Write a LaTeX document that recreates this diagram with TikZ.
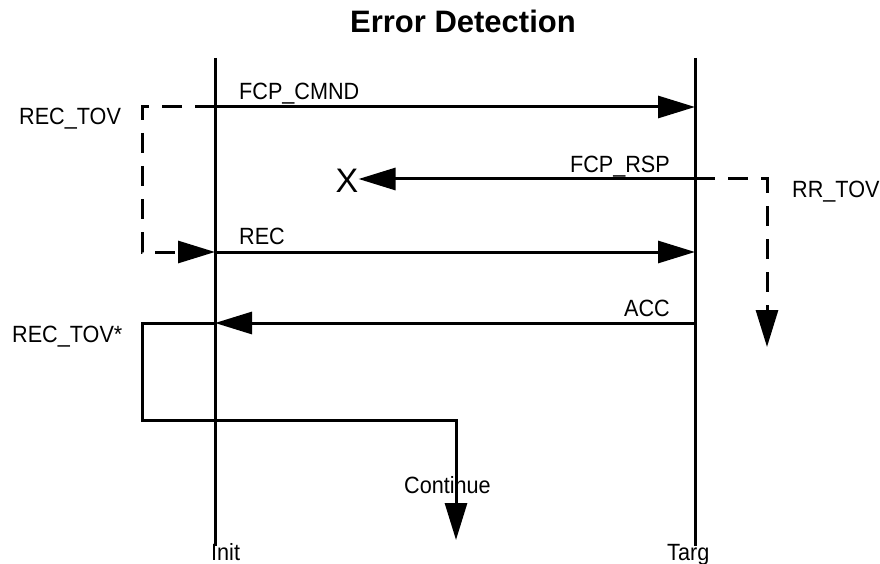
\documentclass[tikz,border=0pt]{standalone}
\usepackage{fontspec}
\setmainfont{Liberation Sans}
\newfontfamily\narrowfont{Liberation Sans}[FakeStretch=0.92]
\usetikzlibrary{arrows.meta}

\begin{document}
\begin{tikzpicture}[x=1pt,y=-1pt,
 msg/.style={line width=3pt, -{Triangle[length=37pt,width=22pt]}},
 tmo/.style={msg, dash pattern=on 20pt off 13pt},
 lbl/.style={inner sep=0, font=\narrowfont\fontsize{23.5}{27}\selectfont}]
\useasboundingbox (0,0) rectangle (880,564);

\node[font=\bfseries\fontsize{31}{36}\selectfont, anchor=base, inner sep=0] (title) at (463,33) {Error Detection};

% lifelines
\coordinate (initTop) at (215,58);
\coordinate (initBot) at (215,546);
\coordinate (targTop) at (695,58);
\coordinate (targBot) at (695,546);
\draw[line width=3pt] (initTop) -- (initBot);
\draw[line width=3pt] (targTop) -- (targBot);
\node[lbl, anchor=base west] (init) at (211,560) {Init};
\node[lbl, anchor=base west] (targ) at (667,560) {Targ};

\foreach \name/\y in {cmnd/107, rsp/179, rec/252, acc/323} {
 \coordinate (\name-i) at (215,\y);
 \coordinate (\name-t) at (695,\y);
}

% frames
\draw[msg] (cmnd-i) -- (cmnd-t);
\node[lbl, anchor=base west] (cmndlbl) at (239,100) {FCP\_CMND};
\node[font=\fontsize{34}{40}\selectfont, inner sep=0] (lost) at (347,180.5) {X};
\draw[msg] (rsp-t) -- (rsp-t -| lost.east);
\node[lbl, anchor=base east] (rsplbl) at (670,173) {FCP\_RSP};
\draw[msg] (rec-i) -- (rec-t);
\node[lbl, anchor=base west] (reclbl) at (239,244) {REC};
\draw[msg] (acc-t) -- (acc-i);
\node[lbl, anchor=base east] (acclbl) at (670,316) {ACC};

% timers
\coordinate (rtovTop) at (142,107);
\coordinate (rtovBot) at (142,252);
\draw[tmo] (cmnd-i) -- (rtovTop) -- (rtovBot) -- (rec-i);
\node[lbl, anchor=base west] (rtov) at (19,125) {REC\_TOV};
\coordinate (rrCorner) at (767,179);
\coordinate (rrEnd) at (767,347);
\draw[tmo] (rsp-t) -- (rrCorner) -- (rrEnd);
\node[lbl, anchor=base west] (rrtov) at (792,197) {RR\_TOV};

\coordinate (loopA) at (142,323);
\coordinate (loopB) at (142,420);
\coordinate (loopC) at (456,420);
\coordinate (cont) at (456,540);
\draw[msg] (acc-i) -- (loopA) -- (loopB) -- (loopC) -- (cont);
\node[lbl, anchor=base west] (rtovstar) at (12,342) {REC\_TOV*};
\node[lbl, anchor=base west] (contlbl) at (404,493) {Continue};
\end{tikzpicture}
\end{document}
